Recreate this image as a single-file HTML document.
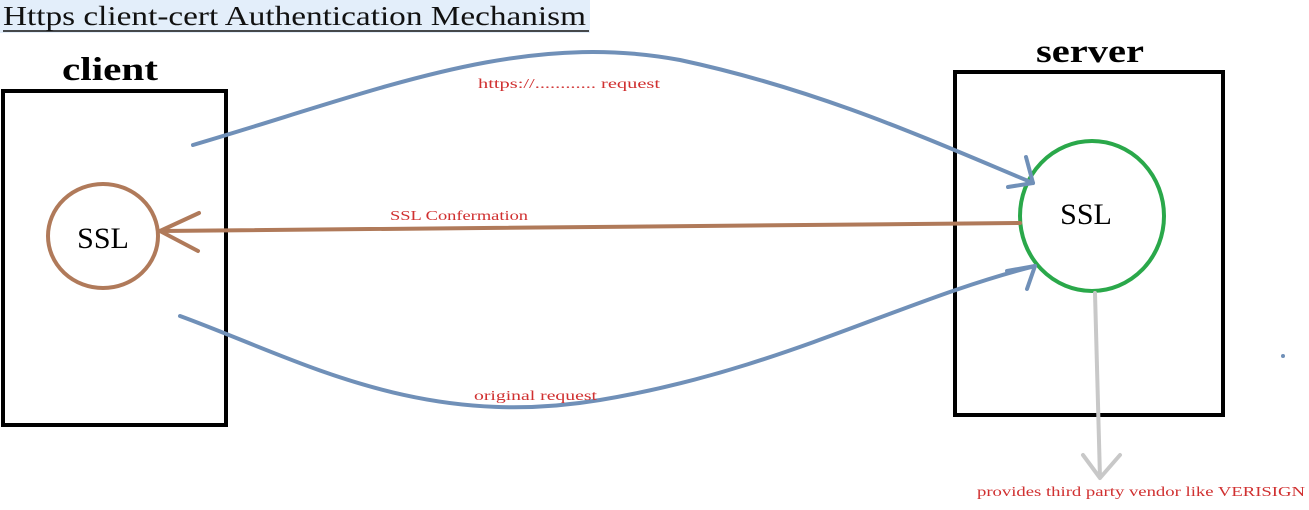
<!DOCTYPE html>
<html><head><style>body{margin:0;background:#fff;width:1309px;height:505px;overflow:hidden}</style></head><body>
<svg width="1309" height="505" xmlns="http://www.w3.org/2000/svg" font-family="Liberation Serif, serif">
<rect x="0" y="0" width="590" height="33" fill="#e3eefa"/>
<text x="3" y="25" font-size="27" fill="#111" textLength="583" lengthAdjust="spacingAndGlyphs">Https client-cert Authentication Mechanism</text>
<line x1="3" y1="31" x2="589" y2="31" stroke="#111" stroke-width="1.5"/>
<text x="110" y="80" font-size="33" font-weight="bold" text-anchor="middle" textLength="96" lengthAdjust="spacingAndGlyphs">client</text>
<text x="1090" y="62" font-size="33" font-weight="bold" text-anchor="middle" textLength="108" lengthAdjust="spacingAndGlyphs">server</text>
<rect x="3" y="91" width="223" height="334" fill="none" stroke="#000" stroke-width="4"/>
<rect x="955" y="72" width="268" height="343" fill="none" stroke="#000" stroke-width="4"/>
<ellipse cx="103" cy="236" rx="55" ry="52" fill="none" stroke="#b07a5a" stroke-width="4"/>
<text x="103" y="248" font-size="30" text-anchor="middle">SSL</text>
<ellipse cx="1092" cy="216" rx="72" ry="75" fill="none" stroke="#2aa84a" stroke-width="4"/>
<text x="1086" y="224" font-size="30" text-anchor="middle">SSL</text>
<g stroke="#7090b8" stroke-width="4" fill="none" stroke-linecap="round">
<path d="M193 145 C 380 90, 520 30, 680 60 C 820 90, 930 140, 1033 183"/>
<path d="M1033 183 L1026 157 M1033 183 L1008 187"/>
<path d="M180 316 C 300 360, 420 430, 600 400 C 780 370, 900 300, 1035 266"/>
<path d="M1035 266 L1007 271 M1035 266 L1027 289"/>
</g>
<g stroke="#b07a5a" stroke-width="4" fill="none" stroke-linecap="round">
<path d="M1020 223 L160 231"/>
<path d="M160 231 L199 213 M160 231 L198 251"/>
</g>
<g stroke="#c8c8c8" stroke-width="4" fill="none" stroke-linecap="round">
<path d="M1095 293 L1100 478 M1100 478 L1083 455 M1100 478 L1120 455"/>
</g>
<circle cx="1283" cy="356" r="2" fill="#7090b8"/>
<g fill="#d03030" font-size="14">
<text x="478" y="88" textLength="182" lengthAdjust="spacingAndGlyphs">https://............  request</text>
<text x="390" y="220" textLength="138" lengthAdjust="spacingAndGlyphs">SSL Confermation</text>
<text x="474" y="400" textLength="123" lengthAdjust="spacingAndGlyphs">original  request</text>
<text x="977" y="496" textLength="328" lengthAdjust="spacingAndGlyphs">provides third party vendor like  VERISIGN</text>
</g>
</svg>
</body></html>
